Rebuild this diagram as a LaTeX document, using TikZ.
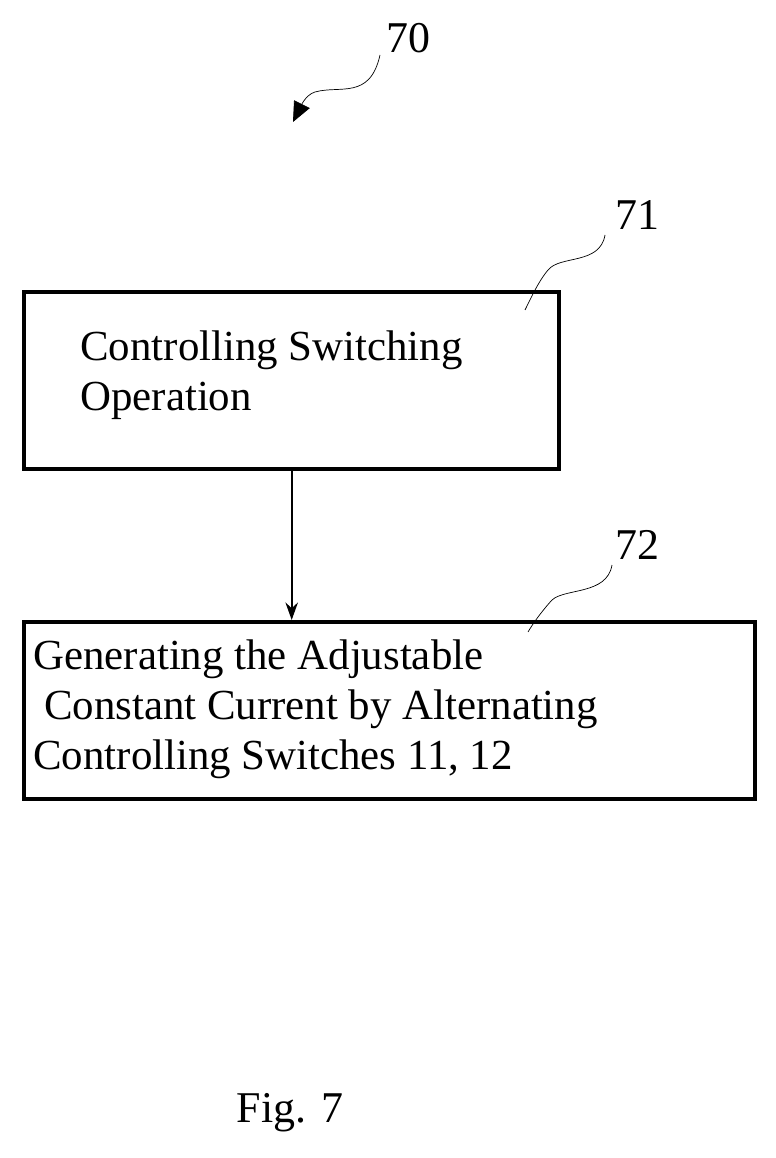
\documentclass[tikz,border=0pt]{standalone}
\usepackage{fontspec}
\setmainfont{Liberation Serif}
\usetikzlibrary{positioning}
\usetikzlibrary{arrows.meta}

\begin{document}
\begin{tikzpicture}[x=0.02cm,y=-0.02cm,
    stepbox/.style={draw=black,line width=2.5pt,rectangle,anchor=north west,inner sep=0pt},
    lbl/.style={font=\fontsize{24.4}{28.5}\selectfont,align=left,anchor=west,inner sep=0pt},
    leader/.style={line width=0.4pt}]
    \useasboundingbox (0,0) rectangle (775,1158);
    \node[stepbox,minimum width=535*0.02cm,minimum height=177*0.02cm] (S71) at (22,290) {};
    \node[stepbox,minimum width=731*0.02cm,minimum height=177*0.02cm] (S72) at (22,620) {};
    \node[lbl] (T71) at (80,375) {Controlling Switching\\Operation};
    \node[lbl] (T72) at (33,709) {Generating the Adjustable\\ \ Constant Current by Alternating\\Controlling Switches 11, 12};
    \node[font=\fontsize{25}{29}\selectfont] (N70) at (408,38) {70};
    \node[font=\fontsize{25}{29}\selectfont] (N71) at (637,215) {71};
    \node[font=\fontsize{25}{29}\selectfont] (N72) at (637,545) {72};
    \node[font=\fontsize{25}{29}\selectfont] (FIG) at (290,1113) {Fig. 7};
    \coordinate (P70) at (293,122);

    \draw[leader,-{Triangle[length=4mm,width=3.5mm]}] (380,55) .. controls (370,100) and (340,85) .. (315,92) .. controls (305,95) and (300,108) .. (P70);
    \draw[leader] (605,235) .. controls (600,265) and (560,255) .. (548,270) .. controls (538,282) and (530,300) .. (525,310);
    \draw[leader] (612,565) .. controls (607,595) and (565,588) .. (552,600) .. controls (541,612) and (532,625) .. (528,632);
    \draw[line width=1pt,-{Stealth[length=3.5mm,width=2.5mm]}] (S71.south) -- (S72.north -| S71.south);
\end{tikzpicture}
\end{document}
